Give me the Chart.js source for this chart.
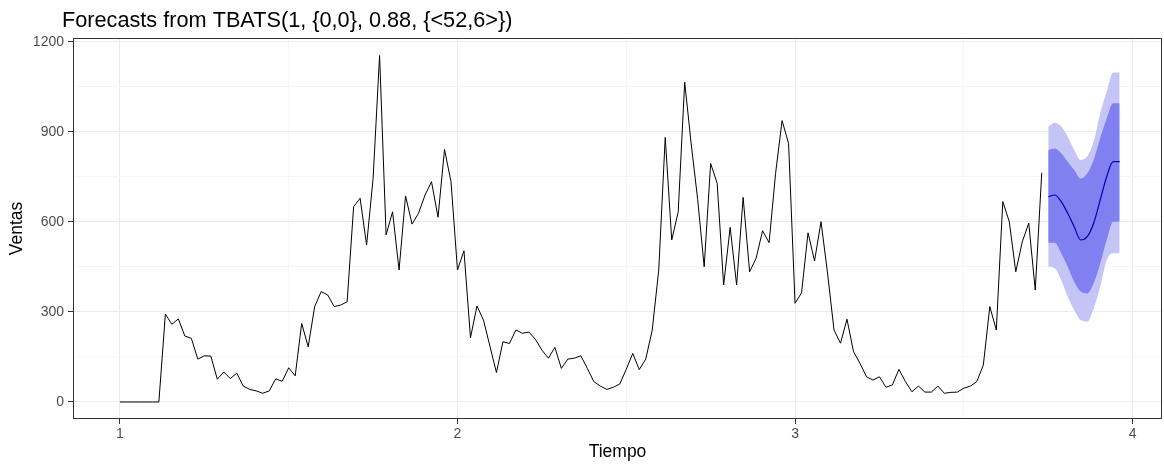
<!DOCTYPE html>
<html>
<head>
<meta charset="utf-8">
<script src="https://cdn.jsdelivr.net/npm/chart.js@4"></script>
<style>
  body { margin: 0; background: #fff; }
</style>
</head>
<body>
<canvas id="chart" width="1164" height="464"></canvas>
<script>
// weekly series, frequency 52, starting at time 1
const freq = 52;
const startTime = 1;

const ventas = [
  0, 0, 0, 0, 0, 0, 0, 293, 259, 277,
  220, 212, 143, 154, 153, 76, 100, 78, 96, 53,
  42, 37, 29, 37, 77, 69, 114, 87, 262, 184,
  318, 368, 357, 318, 323, 334, 651, 679, 523, 745,
  1155, 557, 634, 440, 687, 593, 629, 690, 734, 616,
  842, 734, 440, 504, 214, 320, 273, 186, 98, 201,
  195, 240, 229, 233, 209, 173, 146, 182, 112, 143,
  146, 154, 112, 68, 53, 42, 49, 60, 109, 162,
  108, 143, 240, 440, 882, 540, 634, 1066, 860, 675,
  451, 795, 729, 390, 582, 390, 682, 434, 479, 571,
  531, 762, 938, 862, 329, 364, 564, 470, 601, 430,
  240, 196, 276, 168, 129, 84, 73, 84, 49, 57,
  109, 68, 34, 53, 33, 33, 53, 29, 32, 33,
  46, 53, 68, 123, 318, 240, 668, 601, 434, 534,
  596, 373, 764
];

// forecast (12 weeks ahead)
const forecastMean = [684, 690, 668, 629, 584, 540, 551, 596, 673, 751, 801, 801];
const hi80 = [840, 845, 829, 801, 773, 745, 762, 807, 879, 945, 996, 996];
const lo80 = [531, 531, 496, 451, 401, 368, 362, 396, 462, 540, 601, 601];
const hi95 = [918, 931, 918, 884, 840, 807, 818, 868, 962, 1034, 1098, 1098];
const lo95 = [451, 446, 407, 351, 307, 273, 268, 312, 384, 473, 496, 496];

const xTickLabels = [1, 2, 3, 4];
const yTickLabels = [0, 300, 600, 900, 1200];

const titleText = 'Forecasts from TBATS(1, {0,0}, 0.88, {<52,6>})';

function toPoints(values, offset) {
  return values.map((v, i) => ({ x: startTime + (offset + i) / freq, y: v }));
}

const histPts = toPoints(ventas, 0);
const fcOffset = ventas.length;

const fontFamily = '"Liberation Sans", Arial, sans-serif';

// panel border + plot title (ggplot style)
const panelPlugin = {
  id: 'panel',
  afterDraw(chart) {
    const ctx = chart.ctx;
    const a = chart.chartArea;
    ctx.save();
    ctx.strokeStyle = '#333333';
    ctx.lineWidth = 1;
    ctx.strokeRect(a.left + 0.5, a.top + 0.5, a.right - a.left - 1, a.bottom - a.top - 1);
    ctx.font = '21.7px ' + fontFamily;
    ctx.fillStyle = '#000';
    ctx.textBaseline = 'alphabetic';
    ctx.fillText(titleText, 62, 27);
    ctx.restore();
  }
};

const gridColor = (ctx, labels) => labels.includes(ctx.tick.value) ? '#ebebeb' : '#f5f5f5';
const tickColor = (ctx, labels) => labels.includes(ctx.tick.value) ? '#333333' : 'rgba(0,0,0,0)';

new Chart(document.getElementById('chart'), {
  type: 'line',
  data: {
    datasets: [
      {
        label: 'Ventas',
        data: histPts,
        borderColor: '#000000',
        borderWidth: 1,
        pointRadius: 0,
        tension: 0,
        fill: false
      },
      {
        label: 'Media',
        data: toPoints(forecastMean, fcOffset),
        borderColor: '#0000b0',
        borderWidth: 1.2,
        pointRadius: 0,
        cubicInterpolationMode: 'monotone',
        fill: false
      },
      {
        label: 'Hi 80',
        data: toPoints(hi80, fcOffset),
        borderWidth: 0,
        borderColor: 'rgba(0,0,0,0)',
        backgroundColor: '#8080f0',
        pointRadius: 0,
        cubicInterpolationMode: 'monotone',
        fill: '+1'
      },
      {
        label: 'Lo 80',
        data: toPoints(lo80, fcOffset),
        borderWidth: 0,
        borderColor: 'rgba(0,0,0,0)',
        pointRadius: 0,
        cubicInterpolationMode: 'monotone',
        fill: false
      },
      {
        label: 'Hi 95',
        data: toPoints(hi95, fcOffset),
        borderWidth: 0,
        borderColor: 'rgba(0,0,0,0)',
        backgroundColor: '#c4c4f6',
        pointRadius: 0,
        cubicInterpolationMode: 'monotone',
        fill: '+1'
      },
      {
        label: 'Lo 95',
        data: toPoints(lo95, fcOffset),
        borderWidth: 0,
        borderColor: 'rgba(0,0,0,0)',
        pointRadius: 0,
        cubicInterpolationMode: 'monotone',
        fill: false
      }
    ]
  },
  options: {
    responsive: false,
    animation: false,
    layout: { padding: { top: 38, right: 2, left: 0, bottom: 0 } },
    plugins: {
      legend: { display: false },
      title: { display: false },
      tooltip: { enabled: false }
    },
    scales: {
      x: {
        type: 'linear',
        min: 0.861,
        max: 4.087,
        afterFit(scale) { scale.height = 45; },
        border: { display: false },
        grid: {
          color: (ctx) => gridColor(ctx, xTickLabels),
          tickColor: (ctx) => tickColor(ctx, xTickLabels),
          tickLength: 5,
          lineWidth: 1
        },
        ticks: {
          stepSize: 0.5,
          includeBounds: false,
          maxRotation: 0,
          autoSkip: false,
          padding: 2,
          color: '#4d4d4d',
          font: { family: fontFamily, size: 14 },
          callback: (v) => xTickLabels.includes(v) ? String(v) : ''
        },
        title: {
          display: true,
          text: 'Tiempo',
          color: '#000',
          font: { family: fontFamily, size: 17.5 },
          padding: { top: 0, bottom: 1 }
        }
      },
      y: {
        type: 'linear',
        min: -56.7,
        max: 1213.3,
        afterFit(scale) { scale.width = 73; },
        border: { display: false },
        grid: {
          color: (ctx) => gridColor(ctx, yTickLabels),
          tickColor: (ctx) => tickColor(ctx, yTickLabels),
          tickLength: 5,
          lineWidth: 1
        },
        ticks: {
          stepSize: 150,
          includeBounds: false,
          autoSkip: false,
          padding: 4,
          color: '#4d4d4d',
          font: { family: fontFamily, size: 14 },
          callback: (v) => yTickLabels.includes(v) ? String(v) : ''
        },
        title: {
          display: true,
          text: 'Ventas',
          color: '#000',
          font: { family: fontFamily, size: 17.5 },
          padding: { top: 7, bottom: 0 }
        }
      }
    }
  },
  plugins: [panelPlugin]
});
</script>
</body>
</html>
